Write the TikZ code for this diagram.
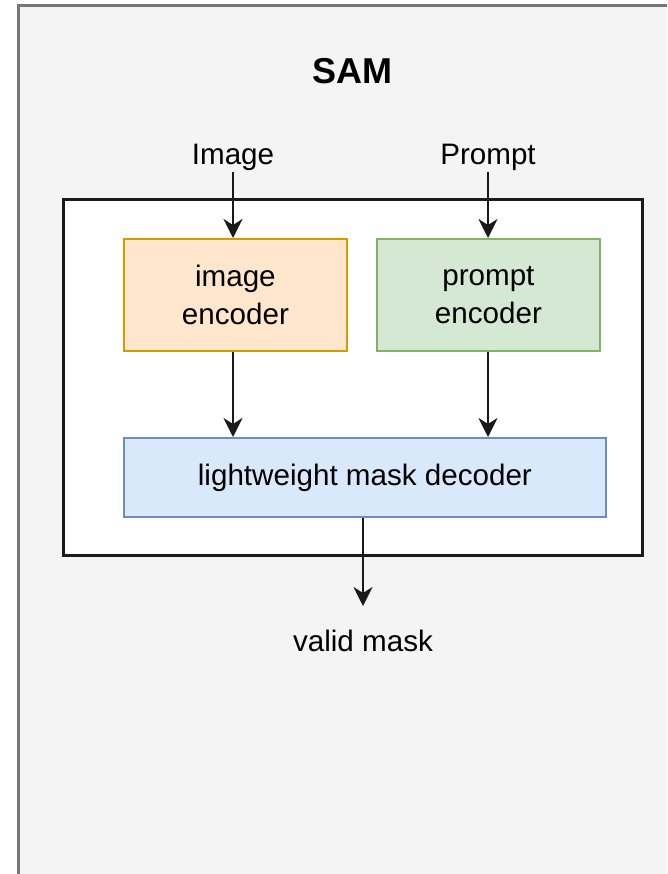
\documentclass[tikz,border=0pt]{standalone}
\usepackage{fontspec}
\setmainfont{Liberation Sans}
\usetikzlibrary{arrows.meta}
\definecolor{bgfill}{HTML}{F4F4F4}
\definecolor{bgdraw}{HTML}{777777}
\definecolor{orfill}{HTML}{FFE6CC}
\definecolor{ordraw}{HTML}{D79B00}
\definecolor{grfill}{HTML}{D5E8D4}
\definecolor{grdraw}{HTML}{82B366}
\definecolor{blfill}{HTML}{DAE8FC}
\definecolor{bldraw}{HTML}{6C8EBF}
\definecolor{linec}{HTML}{1A1A1A}
\tikzset{
  lbl/.style={font=\fontsize{29.6}{38}\selectfont, text=black, align=center, inner sep=0pt},
  blk/.style={lbl, line width=1.8pt, anchor=north west},
  conn/.style={draw=linec, line width=2.1pt, -{Stealth[length=19pt,width=19pt,inset=6pt]}}
}
\begin{document}
\begin{tikzpicture}[x=1pt,y=-1pt]
\useasboundingbox (0,0) rectangle (667,874);
\begin{scope}
\clip (0,0) rectangle (667,874);
\draw[fill=bgfill, draw=bgdraw, line width=2.8pt] (18.5,5.5) rectangle (720,920);
\end{scope}
\node[lbl, font=\fontsize{36}{42}\selectfont\bfseries] (sam) at (352,71) {SAM};
\draw[fill=white, draw=linec, line width=2.4pt] (63.5,199.5) rectangle (642.5,555.5);
\node[lbl] (img) at (233,157) {Image};
\node[lbl] (prm) at (488,157) {Prompt};
\node[blk, fill=orfill, draw=ordraw, minimum width=223pt, minimum height=112pt] (ienc) at (123,238) {image\\encoder};
\node[blk, fill=grfill, draw=grdraw, minimum width=223pt, minimum height=112pt] (penc) at (376,238) {prompt\\encoder};
\node[blk, fill=blfill, draw=bldraw, minimum width=482pt, minimum height=79pt] (dec) at (123,437) {lightweight mask decoder};
\node[lbl] (vm) at (363,641) {valid mask};
\coordinate (imgtop) at (233,172);
\coordinate (prmtop) at (488,172);
\coordinate (vmtop) at (363,606);
\draw[conn] (imgtop) -- (imgtop |- ienc.north);
\draw[conn] (prmtop) -- (prmtop |- penc.north);
\draw[conn] (ienc.south -| imgtop) -- (imgtop |- dec.north);
\draw[conn] (penc.south -| prmtop) -- (prmtop |- dec.north);
\draw[conn] (dec.south -| vmtop) -- (vmtop);
\end{tikzpicture}
\end{document}
